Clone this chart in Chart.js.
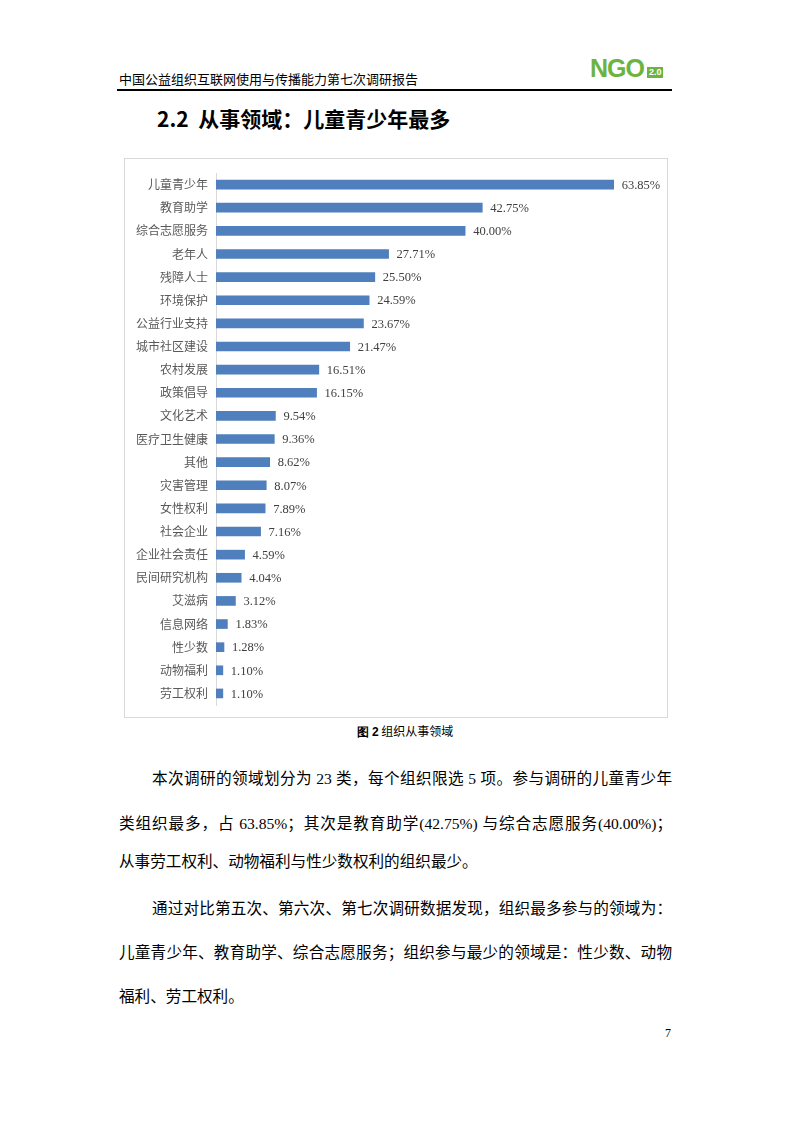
<!DOCTYPE html>
<html>
<head>
<meta charset="utf-8">
<script src="https://cdn.jsdelivr.net/npm/chart.js@4.4.0/dist/chart.umd.min.js"></script>
<style>
    body { margin: 0; background: #fff; font-family: 'Liberation Serif', 'Noto Sans CJK SC', serif; }
    .page { position: relative; width: 793px; height: 1122px; overflow: hidden; }
    .header { position: absolute; left: 119px; top: 69px; font-size: 13px; color: #000; font-family: 'Noto Sans CJK SC', sans-serif; }
    .rule { position: absolute; left: 117px; top: 89px; width: 555px; height: 1.5px; background: #000; }
    .logo { position: absolute; left: 590px; top: 54px; color: #6cb33f; font-family: 'Liberation Sans', sans-serif; font-weight: bold; font-size: 25px; letter-spacing: -1px; }
    .logo .ver { display: inline-block; font-size: 9px; letter-spacing: 0; background: #6cb33f; color: #fff; padding: 0 2px; vertical-align: 2px; margin-left: 3px; line-height: 11px; }
    .title { position: absolute; left: 157px; top: 103px; font-size: 21px; font-weight: bold; font-family: 'Noto Sans CJK SC', sans-serif; color: #000; }
    .box { position: absolute; left: 124px; top: 158px; width: 542px; height: 558px; border: 1px solid #d9d9d9; }
    .box .wrap { position: absolute; left: 0; top: 0; width: 542px; height: 558px; }
    .caption { position: absolute; left: 0; width: 810px; top: 722px; text-align: center; font-size: 12px; font-family: 'Noto Sans CJK SC', sans-serif; color: #000; }
    .caption b { font-family: 'Liberation Sans', sans-serif; }
    .line { position: absolute; left: 119px; width: 553px; font-size: 15.6px; color: #000; white-space: nowrap; }
    .line.j { text-align: justify; text-align-last: justify; white-space: normal; }
    .line.ind { left: 152px; width: 520px; }
    .pnum { position: absolute; left: 665px; top: 1026px; font-size: 12px; }
</style>
</head>
<body>
<div class="page">
    <div class="header">中国公益组织互联网使用与传播能力第七次调研报告</div>
    <div class="logo">NGO<span class="ver">2.0</span></div>
    <div class="rule"></div>
    <div class="title">2.2&nbsp; 从事领域：儿童青少年最多</div>
    <div class="box"><div class="wrap"><canvas id="myChart"></canvas></div></div>
    <div class="caption"><b>图 2</b> 组织从事领域</div>

    <div class="line j ind" style="top:766px">本次调研的领域划分为 23 类，每个组织限选 5 项。参与调研的儿童青少年</div>
    <div class="line j" style="top:811px">类组织最多，占 63.85%；其次是教育助学(42.75%) 与综合志愿服务(40.00%)；</div>
    <div class="line" style="top:849px">从事劳工权利、动物福利与性少数权利的组织最少。</div>
    <div class="line j ind" style="top:896px">通过对比第五次、第六次、第七次调研数据发现，组织最多参与的领域为：</div>
    <div class="line j" style="top:940px">儿童青少年、教育助学、综合志愿服务；组织参与最少的领域是：性少数、动物</div>
    <div class="line" style="top:984px">福利、劳工权利。</div>
    <div class="pnum">7</div>
</div>
<script>
// categories and percentages, top to bottom
const categories = ['儿童青少年', '教育助学', '综合志愿服务', '老年人', '残障人士', '环境保护', '公益行业支持',
    '城市社区建设', '农村发展', '政策倡导', '文化艺术', '医疗卫生健康', '其他', '灾害管理', '女性权利',
    '社会企业', '企业社会责任', '民间研究机构', '艾滋病', '信息网络', '性少数', '动物福利', '劳工权利'];
const shares = [63.85, 42.75, 40.00, 27.71, 25.50, 24.59, 23.67, 21.47, 16.51, 16.15, 9.54, 9.36, 8.62,
    8.07, 7.89, 7.16, 4.59, 4.04, 3.12, 1.83, 1.28, 1.10, 1.10];

// value labels at the end of each bar
const valueLabels = {
    id: 'valueLabels',
    afterDatasetsDraw(chart) {
        const ctx = chart.ctx;
        const xs = chart.scales.x;
        const meta = chart.getDatasetMeta(0);
        ctx.save();
        ctx.font = '12.5px "Liberation Serif", serif';
        ctx.fillStyle = '#404040';
        ctx.textBaseline = 'middle';
        meta.data.forEach((bar, i) => {
            ctx.fillText(shares[i].toFixed(2) + '%', xs.getPixelForValue(shares[i]) + 8, bar.y + 1);
        });
        ctx.restore();
    }
};

const ctx = document.getElementById('myChart').getContext('2d');
const myChart = new Chart(ctx, {
    type: 'bar',
    data: {
        labels: categories,
        datasets: [{
            data: shares,
            backgroundColor: '#4f7fbd',
            barThickness: 9
        }]
    },
    options: {
        indexAxis: 'y',
        responsive: true,
        maintainAspectRatio: false,
        animation: false,
        layout: { padding: { top: 14, bottom: 12, left: 0, right: 15 } },
        plugins: { legend: { display: false }, tooltip: { enabled: false } },
        scales: {
            x: {
                display: false,
                min: 0,
                max: 70
            },
            y: {
                afterFit: (scale) => { scale.width = 91; },
                grid: { display: false, tickLength: 8 },
                border: { display: true, color: '#d9d9d9', width: 1 },
                ticks: {
                    padding: 0,
                    color: '#595959',
                    font: { size: 12, family: '"Noto Sans CJK SC", sans-serif' }
                }
            }
        }
    },
    plugins: [valueLabels]
});
</script>
</body>
</html>
